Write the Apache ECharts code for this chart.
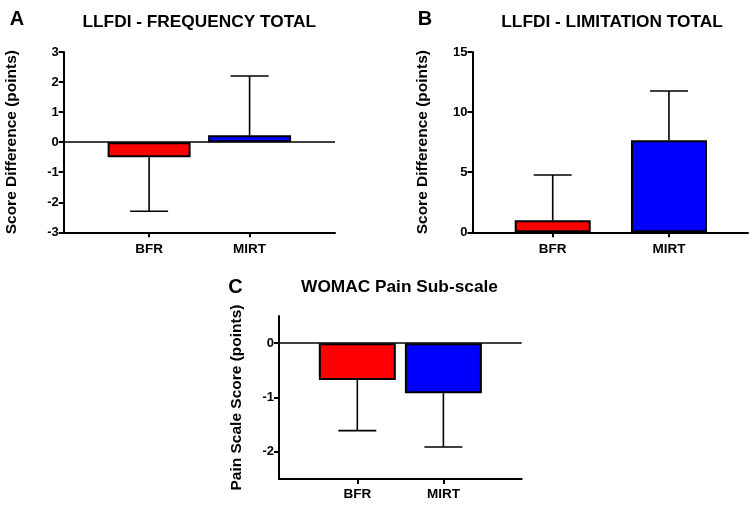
<!DOCTYPE html>
<html>
<head>
<meta charset="utf-8">
<script src="https://cdn.jsdelivr.net/npm/echarts@6/dist/echarts.min.js"></script>
<style>
html,body{margin:0;padding:0;background:#fff;}
#chart{width:754px;height:507px;}
</style>
</head>
<body>
<div id="chart"></div>
<script>
// ---- data ----
const categories = ['BFR', 'MIRT'];
const barColors = ['#ff0000', '#0000ff'];

const freqMean = [-0.5, 0.23];
const freqErrEnd = [-2.3, 2.2];
const freqTicks = [-3, -2, -1, 0, 1, 2, 3];

const limMean = [1.0, 7.65];
const limErrEnd = [4.77, 11.76];
const limTicks = [0, 5, 10, 15];

const painMean = [-0.68, -0.92];
const painErrEnd = [-1.61, -1.91];
const painTicks = [-2, -1, 0];

const panelTitles = ['LLFDI - FREQUENCY TOTAL', 'LLFDI - LIMITATION TOTAL', 'WOMAC Pain Sub-scale'];
const panelLetters = ['A', 'B', 'C'];
const yNames = ['Score Difference (points)', 'Score Difference (points)', 'Pain Scale Score (points)'];

// ---- layout ----
const FONT = '"Liberation Sans", Arial, sans-serif';
const panels = [
  {mean: freqMean, end: freqErrEnd, ticks: freqTicks, ymin: -3, ymax: 3, xmin: 0.15, xmax: 2.85,
   grid: {left: 63.7, right: 419, top: 52, height: 180.3}, barWidth: 83, nameGap: 44, zeroLine: true, labelMargin: 10},
  {mean: limMean, end: limErrEnd, ticks: limTicks, ymin: 0, ymax: 15, xmin: 0.31, xmax: 2.68,
   grid: {left: 472.5, right: 6, top: 52, height: 180.3}, barWidth: 76, nameGap: 42, zeroLine: false, labelMargin: 10},
  {mean: painMean, end: painErrEnd, ticks: painTicks, ymin: -2.5, ymax: 0.5, xmin: 0.09, xmax: 2.91,
   grid: {left: 279, right: 232.3, top: 316, height: 163}, barWidth: 77, nameGap: 34, zeroLine: true, labelMargin: 8}
];

const catPos = categories.map((c, i) => i + 1);

function errRender(params, api) {
  const x = api.value(0), m = api.value(1), e = api.value(2);
  const p0 = api.coord([x, m]);
  const p1 = api.coord([x, e]);
  const h = 19;
  const st = {stroke: '#000', lineWidth: 1.6};
  return {
    type: 'group',
    children: [
      {type: 'line', shape: {x1: p0[0], y1: p0[1], x2: p1[0], y2: p1[1]}, style: st},
      {type: 'line', shape: {x1: p1[0] - h, y1: p1[1], x2: p1[0] + h, y2: p1[1]}, style: st}
    ]
  };
}

const grids = [], xAxes = [], yAxes = [], series = [];
panels.forEach((p, k) => {
  grids.push(Object.assign({containLabel: false}, p.grid));
  xAxes.push({
    type: 'value', gridIndex: k, min: p.xmin, max: p.xmax,
    axisLine: {onZero: false, lineStyle: {color: '#000', width: 2}},
    axisTick: {show: true, customValues: catPos, length: 5, lineStyle: {color: '#000', width: 2}},
    axisLabel: {customValues: catPos, formatter: v => categories[Math.round(v) - 1] || '',
      color: '#000', fontWeight: 'bold', fontSize: 13.5, fontFamily: FONT, margin: p.labelMargin},
    splitLine: {show: false}
  });
  yAxes.push({
    type: 'value', gridIndex: k, min: p.ymin, max: p.ymax,
    name: yNames[k], nameLocation: 'middle', nameGap: p.nameGap, nameRotate: 90,
    nameTextStyle: {color: '#000', fontWeight: 'bold', fontSize: 15.5, fontFamily: FONT},
    axisLine: {show: true, lineStyle: {color: '#000', width: 2}},
    axisTick: {show: true, customValues: p.ticks, length: 5, lineStyle: {color: '#000', width: 2}},
    axisLabel: {customValues: p.ticks, color: '#000', fontWeight: 'bold', fontSize: 13, fontFamily: FONT, margin: 5},
    splitLine: {show: false}
  });
  const barSeries = {
    type: 'bar', xAxisIndex: k, yAxisIndex: k, barWidth: p.barWidth,
    data: p.mean.map((v, i) => ({value: [catPos[i], v], itemStyle: {color: barColors[i]}})),
    itemStyle: {borderColor: '#000', borderWidth: 2},
    silent: true, animation: false
  };
  if (p.zeroLine) {
    barSeries.markLine = {
      silent: true, symbol: ['none', 'none'], animation: false,
      label: {show: false},
      lineStyle: {color: '#000', width: 1.6, type: 'solid'},
      data: [{yAxis: 0}]
    };
  }
  series.push(barSeries);
  series.push({
    type: 'custom', xAxisIndex: k, yAxisIndex: k, renderItem: errRender,
    data: p.mean.map((v, i) => [catPos[i], v, p.end[i]]),
    encode: {x: 0, y: [1, 2]}, silent: true, animation: false, z: 5
  });
});

const textPos = [
  {letter: [17, 19.5], title: [199.3, 22.5]},
  {letter: [425, 19], title: [612, 22.5]},
  {letter: [235.5, 287], title: [399.5, 287.5]}
];
const graphics = [];
textPos.forEach((t, k) => {
  graphics.push({type: 'text', x: t.letter[0], y: t.letter[1], silent: true,
    style: {text: panelLetters[k], font: 'bold 20px ' + FONT, fill: '#000',
      textAlign: 'center', textVerticalAlign: 'middle', align: 'center', verticalAlign: 'middle'}});
  graphics.push({type: 'text', x: t.title[0], y: t.title[1], silent: true,
    style: {text: panelTitles[k], font: 'bold 17.3px ' + FONT, fill: '#000',
      textAlign: 'center', textVerticalAlign: 'middle', align: 'center', verticalAlign: 'middle'}});
});

const chart = echarts.init(document.getElementById('chart'), null, {renderer: 'canvas'});
chart.setOption({
  backgroundColor: '#fff',
  animation: false,
  grid: grids,
  xAxis: xAxes,
  yAxis: yAxes,
  series: series,
  graphic: graphics
});
</script>
</body>
</html>
